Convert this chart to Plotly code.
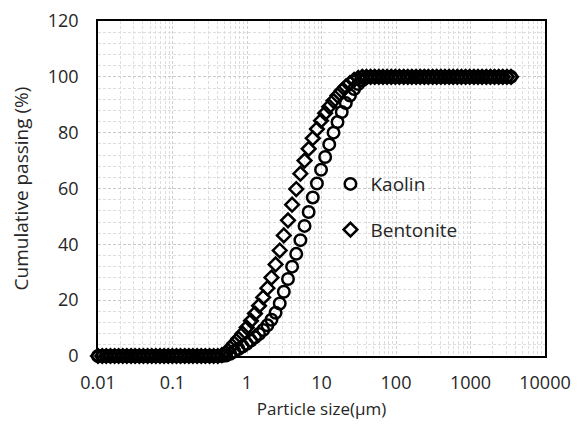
import plotly.graph_objects as go

# Particle size classes (µm)
size_um = [0.01, 0.0114, 0.0129, 0.0147, 0.0167, 0.0189, 0.0215, 0.0244, 0.0278, 0.0315,
           0.0358, 0.0407, 0.0463, 0.0526, 0.0597, 0.0679, 0.0771, 0.0876, 0.0995, 0.113,
           0.128, 0.146, 0.166, 0.188, 0.214, 0.243, 0.276, 0.314, 0.357, 0.405,
           0.46, 0.523, 0.594, 0.675, 0.767, 0.872, 0.991, 1.13, 1.28, 1.45,
           1.65, 1.88, 2.13, 2.42, 2.75, 3.12, 3.55, 4.03, 4.58, 5.21,
           5.92, 6.72, 7.64, 8.68, 9.86, 11.2, 12.7, 14.5, 16.4, 18.7,
           21.2, 24.1, 27.4, 31.1, 35.3, 40.1, 45.6, 51.8, 58.9, 66.9,
           76.0, 86.4, 98.1, 111, 127, 144, 163, 186, 211, 240,
           272, 310, 352, 400, 454, 516, 586, 666, 756, 859,
           976, 1110, 1260, 1430, 1630, 1850, 2100, 2390, 2710, 3080,
           3500]

kaolin = [0, 0, 0, 0, 0, 0, 0, 0, 0, 0,
          0, 0, 0, 0, 0, 0, 0, 0, 0, 0,
          0, 0, 0, 0, 0, 0, 0, 0, 0, 0,
          0, 0.2, 0.8, 1.6, 2.5, 3.4, 4.4, 5.5, 6.7, 7.9,
          9.3, 11.0, 13.0, 15.5, 18.8, 23.0, 27.6, 32.0, 36.6, 41.5,
          46.6, 51.6, 56.8, 61.8, 66.7, 71.3, 75.8, 80.0, 83.8, 87.4,
          90.6, 93.3, 95.6, 97.4, 98.8, 99.7, 100, 100, 100, 100,
          100, 100, 100, 100, 100, 100, 100, 100, 100, 100,
          100, 100, 100, 100, 100, 100, 100, 100, 100, 100,
          100, 100, 100, 100, 100, 100, 100, 100, 100, 100,
          100]

bentonite = [0, 0, 0, 0, 0, 0, 0, 0, 0, 0,
             0, 0, 0, 0, 0, 0, 0, 0, 0, 0,
             0, 0, 0, 0, 0, 0, 0, 0, 0, 0,
             0.3, 1.2, 2.8, 4.5, 6.2, 8.0, 10.2, 12.6, 15.2, 18.0,
             21.0, 24.3, 28.1, 32.8, 37.8, 43.2, 48.6, 54.2, 59.8, 65.3,
             70.0, 74.2, 78.0, 81.3, 84.3, 87.0, 89.3, 91.4, 93.3, 95.0,
             96.5, 97.8, 98.9, 99.6, 100, 100, 100, 100, 100, 100,
             100, 100, 100, 100, 100, 100, 100, 100, 100, 100,
             100, 100, 100, 100, 100, 100, 100, 100, 100, 100,
             100, 100, 100, 100, 100, 100, 100, 100, 100, 100,
             100]

x_ticks = [0.01, 0.1, 1, 10, 100, 1000, 10000]
x_tick_text = ["0.01", "0.1", "1", "10", "100", "1000", "10000"]
y_ticks = [0, 20, 40, 60, 80, 100, 120]

FONT = "Open Sans"
TXT = "#262626"

fig = go.Figure()
fig.add_trace(go.Scatter(
    x=size_um, y=kaolin, mode="markers", name="Kaolin",
    legendgroup="k", cliponaxis=False,
    marker=dict(symbol="circle-open", size=11.5, color="black", line=dict(width=2.5, color="black")),
))
fig.add_trace(go.Scatter(
    x=size_um, y=bentonite, mode="markers", name="Bentonite",
    legendgroup="b", cliponaxis=False,
    marker=dict(symbol="diamond-open", size=10.5, color="black", line=dict(width=2.5, color="black")),
))

fig.update_layout(
    width=571, height=423,
    margin=dict(l=90, r=34, t=13, b=75, autoexpand=False),
    paper_bgcolor="white", plot_bgcolor="white",
    font=dict(family=FONT, color=TXT, size=18),
    legend=dict(x=0.52, y=0.57, xanchor="left", yanchor="top",
                bgcolor="rgba(0,0,0,0)", font=dict(size=19, family=FONT, color=TXT),
                traceorder="grouped", tracegroupgap=18),
    showlegend=True,
)

grid_dash = "3px,2px"
fig.update_xaxes(
    type="log", range=[-2, 4], automargin=False,
    tickvals=x_ticks, ticktext=x_tick_text, ticklabeloverflow="allow",
    showline=True, linecolor="black", linewidth=1.5, mirror=True,
    ticks="", ticklabelstandoff=10,
    showgrid=True, gridcolor="#cfcfcf", gridwidth=1, griddash=grid_dash,
    minor=dict(dtick="D1", showgrid=True, gridcolor="#dedede", griddash=grid_dash, gridwidth=1, ticks=""),
    title=dict(text="Particle size(µm)", font=dict(size=17, family=FONT, color=TXT), standoff=10),
    tickfont=dict(size=18, family=FONT, color=TXT),
    zeroline=False,
)
fig.update_yaxes(
    range=[0, 120], tickvals=y_ticks, automargin=False, ticklabeloverflow="allow",
    showline=True, linecolor="black", linewidth=1.5, mirror=True,
    ticks="", ticklabelstandoff=14,
    showgrid=True, gridcolor="#c8c8c8", gridwidth=1, griddash=grid_dash,
    minor=dict(dtick=4, showgrid=True, gridcolor="#dedede", griddash=grid_dash, gridwidth=1, ticks=""),
    title=dict(text="Cumulative passing (%)", font=dict(size=19, family=FONT, color=TXT), standoff=16),
    tickfont=dict(size=18, family=FONT, color=TXT),
    zeroline=False,
)

fig.write_html("out.html")
